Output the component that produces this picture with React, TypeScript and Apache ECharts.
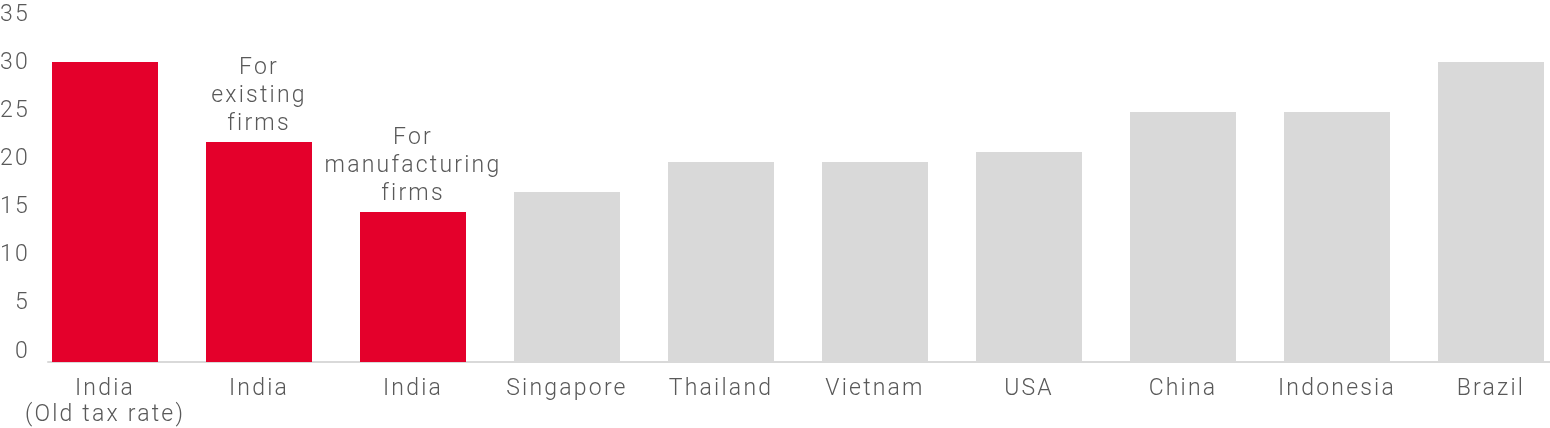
import React, { useEffect, useRef } from 'react';
import * as echarts from 'echarts';

// Corporate tax rates (%)
const categories = [
  'India\n(Old tax rate)',
  'India',
  'India',
  'Singapore',
  'Thailand',
  'Vietnam',
  'USA',
  'China',
  'Indonesia',
  'Brazil'
];
const taxRates = [30, 22, 15, 17, 20, 20, 21, 25, 25, 30];
const highlighted = [true, true, true, false, false, false, false, false, false, false];
const notes = ['', 'For\nexisting\nfirms', 'For\nmanufacturing\nfirms', '', '', '', '', '', '', ''];
const yMin = 0;
const yMax = 35;
const yStep = 5;

const RED = '#E4002B';
const GREY = '#D9D9D9';
const TEXT = '#595959';
const FONT = 'Roboto';
const FONT_SIZE = 23;

// chart canvas is a bit wider than the page: the last category band runs past the edge
const CHART_W = 1570;
const PAGE_W = 1550;
const PAGE_H = 428;

const App = () => {
  const chartRef = useRef<HTMLDivElement>(null);

  useEffect(() => {
    const chart = echarts.init(chartRef.current!, null, { renderer: 'svg' });

    chart.setOption({
      animation: false,
      grid: [
        // bars
        { left: 28, right: 2, top: 12, bottom: 66 },
        // baseline
        { left: 48, right: CHART_W - PAGE_W, top: 12, bottom: 66 },
        // value labels
        { left: 48, right: CHART_W - PAGE_W, top: 13, bottom: 78 }
      ],
      xAxis: [
        {
          type: 'category',
          gridIndex: 0,
          data: categories,
          axisLine: { show: false },
          axisTick: { show: false },
          axisLabel: {
            color: TEXT,
            fontFamily: FONT,
            fontWeight: 300,
            fontSize: FONT_SIZE,
            lineHeight: 26,
            margin: 12,
            interval: 0
          }
        },
        {
          type: 'value',
          gridIndex: 1,
          min: 0,
          max: 1,
          axisLine: { show: true, lineStyle: { color: GREY, width: 2 } },
          axisTick: { show: false },
          axisLabel: { show: false },
          splitLine: { show: false }
        },
        {
          type: 'value',
          gridIndex: 2,
          min: 0,
          max: 1,
          show: false
        }
      ],
      yAxis: [
        {
          type: 'value',
          gridIndex: 0,
          min: yMin,
          max: yMax,
          interval: yStep,
          axisLabel: { show: false },
          axisLine: { show: false },
          axisTick: { show: false },
          splitLine: { show: false }
        },
        {
          type: 'value',
          gridIndex: 1,
          min: 0,
          max: 1,
          show: false
        },
        {
          type: 'value',
          gridIndex: 2,
          min: yMin,
          max: yMax,
          interval: yStep,
          axisLine: { show: false },
          axisTick: { show: false },
          splitLine: { show: false },
          axisLabel: {
            color: TEXT,
            fontFamily: FONT,
            fontWeight: 300,
            fontSize: FONT_SIZE,
            margin: 18
          }
        }
      ],
      series: [
        {
          type: 'bar',
          xAxisIndex: 0,
          yAxisIndex: 0,
          barWidth: 106,
          data: taxRates.map((v, i) => ({
            value: v,
            itemStyle: { color: highlighted[i] ? RED : GREY },
            label: notes[i]
              ? {
                  show: true,
                  position: 'top',
                  distance: 6,
                  formatter: notes[i],
                  color: TEXT,
                  fontFamily: FONT,
                  fontWeight: 300,
                  fontSize: FONT_SIZE,
                  lineHeight: 28
                }
              : { show: false }
          }))
        }
      ]
    });

    return () => {
      chart.dispose();
    };
  }, []);

  return (
    <div
      style={{
        position: 'fixed',
        left: 0,
        top: 0,
        width: PAGE_W,
        height: PAGE_H,
        overflow: 'hidden'
      }}
    >
      <style>{'.tax-chart text { letter-spacing: 2.2px; }'}</style>
      <div
        ref={chartRef}
        className="tax-chart"
        style={{ width: CHART_W, height: PAGE_H }}
      ></div>
    </div>
  );
};

export default App;
